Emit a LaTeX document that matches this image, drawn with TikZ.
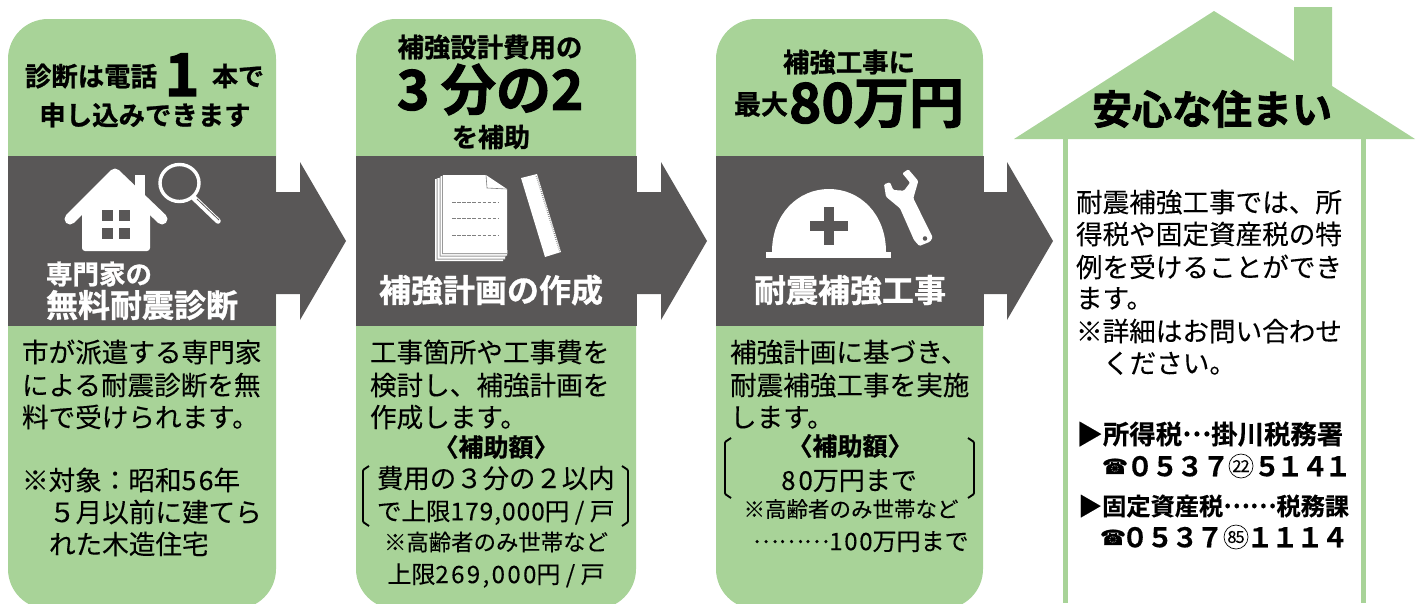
\documentclass[tikz,border=0pt]{standalone}
\usepackage{fontspec}
\newfontfamily\jpm[FakeBold=0.2]{Noto Sans CJK JP}
\newfontfamily\jpb[FakeBold=0.9]{Noto Sans CJK JP Bold}
\newfontfamily\jpt[FakeBold=0.3]{Noto Sans CJK JP Bold}
\newfontfamily\jph[FakeBold=2]{Noto Sans CJK JP Bold}
\newfontfamily\djvub[FakeBold=1.2]{DejaVu Sans Bold}
\newcommand\szz[1]{\fontsize{#1}{#1}\selectfont}
\newcommand\lsp[2]{{\addfontfeature{LetterSpace=#1}#2}}
\newcommand\mdots[1]{\raisebox{.3em}{#1}}
\definecolor{lgreen}{HTML}{A8D398}
\definecolor{dgray}{HTML}{595757}
\tikzset{
  txt/.style={inner sep=0pt,outer sep=0pt,anchor=west,text height=#1*.88pt,text depth=#1*.12pt},
  mid/.style={txt=#1,anchor=center},
  bodyl/.style={txt=#1,font=\jpm\szz{#1}},
  bodyc/.style={mid=#1,font=\jpm\szz{#1}},
  headb/.style={mid=#1,font=\jpb\szz{#1}},
  heavy/.style={mid=#1,font=\jph\szz{#1}},
  whead/.style={mid=#1,font=\jpb\szz{#1},text=white},
  tax/.style={txt=#1,font=\jpt\szz{#1}},
  card/.style={fill=lgreen,rounded corners=40pt},
  bandf/.style={fill=dgray},
  arrowshape/.style={fill=dgray},
  brk/.style={draw=black,line width=1.9pt,line join=round,rounded corners=1pt},
  dig/.style={mid=27,font=\jpt\szz{27}},
  ring/.style={draw=black,line width=.7pt,circle,minimum size=24pt,inner sep=0pt,font=\jpm\szz{16.5}},
  phone/.style={mid=21,font=\djvub\szz{21}},
  pg/.style={fill=gray!80!white},
  pw/.style={fill=white}
}
\begin{document}
\begin{tikzpicture}[x=1pt,y=-1pt]
\useasboundingbox (0,0) rectangle (1420,603);
\clip (0,0) rectangle (1420,603);
% cards
\fill[card] (8,19) rectangle (276,609);
\fill[card] (356,19) rectangle (636,609);
\fill[card] (716,19) rectangle (983,609);
% bands
\fill[bandf] (8,156) rectangle (276,326);
\fill[bandf] (356,156) rectangle (637,326);
\fill[bandf] (716,156) rectangle (984,326);
% arrows
\fill[arrowshape] (276,192) -- (300,192) -- (300,162) -- (346,241) -- (300,320) -- (300,294) -- (276,294) -- cycle;
\fill[arrowshape] (637,192) -- (661,192) -- (661,162) -- (707,241) -- (661,320) -- (661,294) -- (637,294) -- cycle;
\fill[arrowshape] (984,192) -- (1007,192) -- (1007,162) -- (1053,241) -- (1007,320) -- (1007,294) -- (984,294) -- cycle;
% house
\fill[lgreen] (1014,139) -- (1214,11) -- (1294,61) -- (1294,7) -- (1332,7) -- (1332,86) -- (1415,139) -- cycle;
\fill[lgreen] (1063,139) rectangle (1068,603);
\fill[lgreen] (1361,139) rectangle (1366,603);
% house icon
\draw[white,line width=11pt,line cap=round,line join=round] (70,219) -- (115,174) -- (162,219);
\fill[white,rounded corners=3pt] (82,205) -- (115,172) -- (150,205) -- (150,251) -- (82,251) -- cycle;
\fill[white] (135,175) rectangle (145,200);
\fill[dgray] (102,210) rectangle (113,221);
\fill[dgray] (119,210) rectangle (130,221);
\fill[dgray] (102,228) rectangle (113,239);
\fill[dgray] (119,228) rectangle (130,239);
% magnifier
\draw[white,line width=3.4pt] (179.5,183) ellipse (19.5 and 18.5);
\draw[white,line width=5.5pt,line cap=round] (194,198) -- (218,221);
\draw[dgray,line width=.8pt] (197,199) -- (219,220);
% documents
\fill[pw] (435,179) -- (450,179) -- (450,250) -- (503,250) -- (503,261) -- (435,261) -- cycle;
\fill[pg] (436.5,178) -- (452,178) -- (452,250) -- (505,250) -- (505,259.5) -- (436.5,259.5) -- cycle;
\fill[pw] (437.5,178) -- (452,178) -- (452,250) -- (505,250) -- (505,258.5) -- (437.5,258.5) -- cycle;
\fill[pg] (439.5,177) -- (454,177) -- (454,250) -- (506,250) -- (506,256.5) -- (439.5,256.5) -- cycle;
\fill[pw] (440.5,176) -- (456,176) -- (456,250) -- (507,250) -- (507,255.5) -- (440.5,255.5) -- cycle;
\fill[pg] (442,175.5) -- (456,175.5) -- (456,250) -- (507.5,250) -- (507.5,254) -- (442,254) -- cycle;
\fill[pw] (443,175) -- (486,175) -- (507,189) -- (507,253) -- (443,253) -- cycle;
\draw[gray,line width=.6pt] (486,175) -- (487,188) -- (507,189);
\draw[gray,line width=.8pt,dash pattern=on 3.5pt off 1.6pt] (452,202) -- (499,202);
\draw[gray,line width=.8pt,dash pattern=on 3.5pt off 1.6pt] (452,218.5) -- (499,218.5);
\draw[gray,line width=.8pt,dash pattern=on 3.5pt off 1.6pt] (452,235) -- (499,235);
% ruler
\fill[white] (521,178) -- (537,174) -- (561,252) -- (545,257) -- cycle;
\draw[gray,line width=1.6pt,dash pattern=on .6pt off 1.4pt] (536.5,176) -- (560,252);
% helmet
\fill[white] (772,252) .. controls (772,214) and (798,189) .. (829,189) .. controls (860,189) and (886,214) .. (886,252) -- cycle;
\fill[white] (766,252) rectangle (891,258);
\fill[dgray] (824,207) rectangle (834,245);
\fill[dgray] (810,221) rectangle (848,231);
% wrench
\fill[white,rounded corners=1.2pt,even odd rule] (884,184.3) -- (890,182.3) -- (893.3,190) -- (904,190.7) -- (910,182.7) -- (902.3,173.3) -- (908.3,169.3) -- (918.3,181) -- (913.3,198.3) -- (932.7,237.3) -- (930,241.7) -- (919.3,246) -- (914,240) -- (900,208.3) -- (886,196.7) -- cycle (925,238.5) circle (2.4);
% card 1 headline
\node[headb=26.4] (h1a) at (91,76) {診断は電話};
\node[heavy=59] (h1b) at (182,73.5) {1};
\node[headb=26] (h1c) at (238,76) {本で};
\node[headb=26.4] (h1d) at (145,115) {申し込みできます};
\node[whead=26.5,anchor=west] (l1a) at (46,274) {専門家の};
\node[whead=32,anchor=west] (l1b) at (46,305) {無料耐震診断};
% card 1 body
\node[bodyl=26.6] (b1a) at (22,352) {市が派遣する専門家};
\node[bodyl=26.6] (b1b) at (22,385) {による耐震診断を無};
\node[bodyl=26.6] (b1c) at (22,417) {料で受けられます。};
\node[bodyl=26.6] (b1d) at (22,480) {※対象：昭和\lsp{9}{56}年};
\node[bodyl=26.6] (b1e) at (49,512) {５月以前に建てら};
\node[bodyl=26.6] (b1f) at (49,544) {れた木造住宅};
% card 2 headline
\node[headb=26.4] (h2a) at (490,47) {補強設計費用の};
\node[heavy=55,anchor=west] (h2b) at (397,89) {3};
\node[heavy=55,anchor=west] (h2c) at (441,89) {分の2};
\node[headb=26] (h2d) at (491,137) {を補助};
\node[whead=32] (l2a) at (491,290) {補強計画の作成};
% card 2 body
\node[bodyl=26.6] (b2a) at (370,352) {工事箇所や工事費を};
\node[bodyl=26.6] (b2b) at (370,385) {検討し、補強計画を};
\node[bodyl=26.6] (b2c) at (370,417) {作成します。};
\node[headb=25] (b2d) at (496,447) {〈補助額〉};
\node[bodyl=26.4] (b2e) at (377,478) {費用の３分の２以内};
\node[bodyl=24.5] (b2f) at (377,511) {で上限\lsp{4}{179,000}円 / 戸};
\node[bodyc=22.4] (b2g) at (496,542) {※高齢者のみ世帯など};
\node[bodyc=24] (b2h) at (496,574) {上限\lsp{10}{269,000}円 / 戸};
\draw[brk] (369,466) -- (363,470) -- (363,522) -- (369,526);
\draw[brk] (622,466) -- (628,470) -- (628,522) -- (622,526);
% card 3 headline
\node[headb=26.4] (h3a) at (849,62) {補強工事に};
\node[headb=27,anchor=west] (h3b) at (734,104) {最大};
\node[heavy=55,anchor=west] (h3c) at (789,102) {80万円};
\node[whead=32] (l3a) at (850,290) {耐震補強工事};
% card 3 body
\node[bodyl=26.6] (b3a) at (730,352) {補強計画に基づき、};
\node[bodyl=26.6] (b3b) at (730,385) {耐震補強工事を実施};
\node[bodyl=26.6] (b3c) at (730,417) {します。};
\node[headb=25] (b3d) at (850,446) {〈補助額〉};
\node[bodyc=26] (b3e) at (849,480) {\lsp{11}{80}万円まで};
\node[bodyc=21.5] (b3f) at (851,509) {※高齢者のみ世帯など};
\node[bodyl=24] (b3g) at (753,541) {\mdots{………}\lsp{7}{100}万円まで};
\draw[brk] (731,438) -- (725,442) -- (725,494) -- (731,498);
\draw[brk] (968,438) -- (974,442) -- (974,494) -- (968,498);
% house text
\node[heavy=40] (h4a) at (1212,109) {安心な住まい};
\node[bodyl=26.6] (b4a) at (1076,202) {耐震補強工事では、所};
\node[bodyl=26.6] (b4b) at (1076,234) {得税や固定資産税の特};
\node[bodyl=26.6] (b4c) at (1076,267) {例を受けることができ};
\node[bodyl=26.6] (b4d) at (1076,298) {ます。};
\node[bodyl=26.6] (b4e) at (1076,331) {※詳細はお問い合わせ};
\node[bodyl=26.6] (b4f) at (1103,363) {ください。};
\node[tax=26.4] (t1) at (1076.5,434) {▶所得税\mdots{…}掛川税務署};
\node[tax=24.2] (t2) at (1078,506) {▶固定資産税\mdots{……}税務課};
% phone 1
\node[phone] (p1) at (1115,466) {☎};
\node[dig] (d10) at (1140,466) {０};
\node[dig] (d11) at (1165,466) {５};
\node[dig] (d12) at (1190,466) {３};
\node[dig] (d13) at (1216,466) {７};
\node[ring] (r1) at (1241,466) {2\kern-1pt2};
\node[dig] (d14) at (1267,466) {５};
\node[dig] (d15) at (1290,466) {１};
\node[dig] (d16) at (1315,466) {４};
\node[dig] (d17) at (1338,466) {１};
% phone 2
\node[phone] (p2) at (1113,537) {☎};
\node[dig] (d20) at (1135,537) {０};
\node[dig] (d21) at (1160,537) {５};
\node[dig] (d22) at (1185,537) {３};
\node[dig] (d23) at (1210,537) {７};
\node[ring] (r2) at (1236,537) {8\kern-1pt5};
\node[dig] (d24) at (1260,537) {１};
\node[dig] (d25) at (1285,537) {１};
\node[dig] (d26) at (1310,537) {１};
\node[dig] (d27) at (1335,537) {４};
\end{tikzpicture}
\end{document}
